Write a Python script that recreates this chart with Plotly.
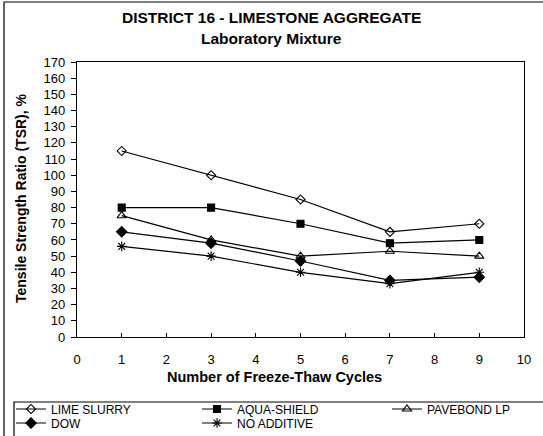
import plotly.graph_objects as go

cycles = [1, 3, 5, 7, 9]
lime_slurry = [115, 100, 85, 65, 70]
aqua_shield = [80, 80, 70, 58, 60]
pavebond_lp = [75, 60, 50, 53, 50]
dow = [65, 58, 47, 35, 37]
no_additive = [56, 50, 40, 33, 40]

series = [
    ("LIME SLURRY", lime_slurry, "diamond-open", 7),
    ("AQUA-SHIELD", aqua_shield, "square", 7),
    ("PAVEBOND LP", pavebond_lp, "triangle-up-open", 8),
    ("DOW", dow, "diamond", 8),
    ("NO ADDITIVE", no_additive, "asterisk-open", 8),
]
# legend slot (column x pixel, row center y pixel) for each series
legend_slots = [(11, 409), (197, 409), (387, 409), (11, 423), (197, 423)]

FONT = "Liberation Sans, Arial, sans-serif"

W, H = 543, 436
L, R, T, B = 77, 19, 62, 99
pw, ph = W - L - R, H - T - B

def px(x):
    return (x - L) / pw

def py(y):
    return (H - B - y) / ph

fig = go.Figure()
legends = {}
for i, ((name, vals, sym, sz), (lx, ly)) in enumerate(zip(series, legend_slots)):
    key = "legend" if i == 0 else f"legend{i + 1}"
    fig.add_trace(go.Scatter(
        x=cycles, y=vals, name=name, mode="lines+markers", legend=key,
        line=dict(color="black", width=1.2),
        marker=dict(symbol=sym, size=sz, color="black",
                    line=dict(color="black", width=1.1)),
    ))
    legends[key] = dict(
        orientation="v", x=px(lx), xanchor="left", y=py(ly - 14.5), yanchor="top",
        font=dict(size=12, family=FONT),
        bgcolor="rgba(0,0,0,0)", borderwidth=0, tracegroupgap=0,
    )

fig.update_layout(
    width=W, height=H,
    margin=dict(l=L, r=R, t=T, b=B, autoexpand=False),
    paper_bgcolor="white", plot_bgcolor="white",
    font=dict(family=FONT, color="black", size=13),
    showlegend=True,
    xaxis=dict(
        range=[0, 10], dtick=1, tick0=0,
        showgrid=False, zeroline=False,
        showline=True, linecolor="black", linewidth=1.2, mirror=True,
        ticks="inside", ticklen=4, tickcolor="black",
        tickfont=dict(size=13), ticklabelstandoff=10,
    ),
    yaxis=dict(
        range=[0, 170], dtick=10, tick0=0,
        showgrid=False, zeroline=False,
        showline=True, linecolor="black", linewidth=1.2, mirror=True,
        ticks="outside", ticklen=5, tickcolor="black",
        tickfont=dict(size=13), ticklabelstandoff=3,
    ),
    shapes=[
        dict(type="rect", xref="paper", yref="paper",
             x0=px(4), x1=px(550), y0=py(2), y1=py(450),
             line=dict(color="black", width=1.2), fillcolor="rgba(0,0,0,0)"),
        dict(type="rect", xref="paper", yref="paper",
             x0=px(14), x1=px(560), y0=py(402), y1=py(460),
             line=dict(color="black", width=1.2), fillcolor="rgba(0,0,0,0)"),
    ],
    annotations=[
        dict(text="<b>DISTRICT 16 - LIMESTONE AGGREGATE</b>", xref="paper", yref="paper",
             x=px(271.5), y=py(17), xanchor="center", yanchor="middle",
             showarrow=False, font=dict(size=15.5, family=FONT)),
        dict(text="<b>Laboratory Mixture</b>", xref="paper", yref="paper",
             x=px(271.5), y=py(38), xanchor="center", yanchor="middle",
             showarrow=False, font=dict(size=15.5, family=FONT)),
        dict(text="<b>Number of Freeze-Thaw Cycles</b>", xref="paper", yref="paper",
             x=px(274), y=py(377), xanchor="center", yanchor="middle",
             showarrow=False, font=dict(size=14.5, family=FONT)),
        dict(text="<b>Tensile Strength Ratio (TSR), %</b>", xref="paper", yref="paper",
             x=px(21), y=py(198), xanchor="center", yanchor="middle", textangle=-90,
             showarrow=False, font=dict(size=14, family=FONT)),
    ],
)
fig.update_layout(**legends)

fig.write_html("out.html",
               config={"displayModeBar": False},
               post_script="document.body.style.margin='0';document.body.style.overflow='hidden';")
